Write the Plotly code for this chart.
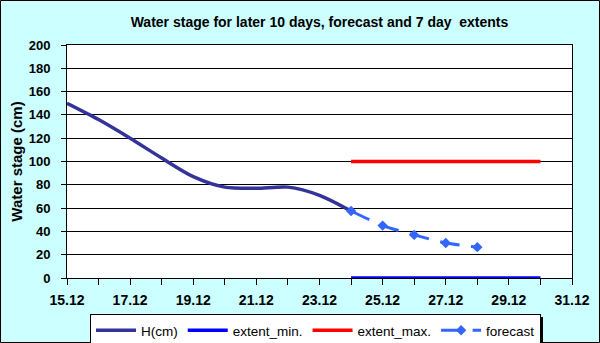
import plotly.graph_objects as go

# observed water stage, daily
h_dates = ["2023-12-15", "2023-12-16", "2023-12-17", "2023-12-18", "2023-12-19",
           "2023-12-20", "2023-12-21", "2023-12-22", "2023-12-23", "2023-12-24"]
h_values = [150, 136, 120, 103, 87, 78, 77, 78, 71, 57.5]

# forecast
fc_dates = ["2023-12-24", "2023-12-25", "2023-12-26", "2023-12-27", "2023-12-28"]
fc_values = [57.5, 45, 37, 30, 26.5]

# 7 day extents
ext_dates = ["2023-12-24", "2023-12-30"]
ext_min = [0, 0]
ext_max = [100, 100]

y_title = "Water stage (cm)"
title = "Water stage for later 10 days, forecast and 7 day  extents"

font = "Liberation Sans, Arial, sans-serif"
W, H = 600, 343
ml, mr, mt, mb = 67, 28, 45, 65
pw, ph = W - ml - mr, H - mt - mb


def px(x, y):
    # pixel position -> paper coords
    return (x - ml) / pw, (H - mb - y) / ph


fig = go.Figure()
fig.add_trace(go.Scatter(x=h_dates, y=h_values, name="H(cm)", mode="lines",
                         line=dict(color="#333399", width=3.5, shape="spline", smoothing=0.8)))
fig.add_trace(go.Scatter(x=ext_dates, y=ext_min, name="extent_min.", mode="lines",
                         line=dict(color="#0000ff", width=3.5), cliponaxis=False))
fig.add_trace(go.Scatter(x=ext_dates, y=ext_max, name="extent_max.", mode="lines",
                         line=dict(color="#ff0000", width=3.5)))
fig.add_trace(go.Scatter(x=fc_dates, y=fc_values, name="forecast", mode="lines+markers",
                         line=dict(color="#3366ff", width=3, dash="20px,11.5px", shape="spline", smoothing=0.6),
                         marker=dict(symbol="diamond", size=8, color="#3366ff")))

day = 86400000
fig.update_xaxes(type="date", range=["2023-12-15", "2023-12-31"], dtick=2 * day,
                 tick0="2023-12-15", tickformat="%d.%m",
                 ticks="outside", ticklen=6, tickcolor="black", ticklabelstandoff=3,
                 minor=dict(dtick=day, ticks="outside", ticklen=6, tickcolor="black"),
                 showgrid=False, showline=True, linecolor="black", linewidth=1,
                 mirror=True, zeroline=False, automargin=False,
                 tickfont=dict(family=font, size=14, color="black", weight="bold"))
fig.update_yaxes(range=[0, 200], dtick=20, ticks="outside", ticklen=5, tickcolor="black",
                 ticklabelstandoff=8,
                 showgrid=True, gridcolor="black", gridwidth=1,
                 showline=True, linecolor="black", linewidth=1, mirror=True, zeroline=False,
                 automargin=False,
                 title=dict(text=y_title, font=dict(family=font, size=15, color="black", weight="bold"),
                            standoff=2),
                 tickfont=dict(family=font, size=13, color="black", weight="bold"))

# legend shadow and outer border
sx0, sy0 = px(93, 343)
sx1, sy1 = px(543, 317)
fig.add_shape(type="rect", xref="paper", yref="paper", x0=sx0, x1=sx1, y0=sy0, y1=sy1,
              fillcolor="black", line=dict(width=0), layer="below")
bx0, by0 = px(0.5, H - 0.5)
bx1, by1 = px(W - 0.5, 0.5)
fig.add_shape(type="rect", xref="paper", yref="paper", x0=bx0, x1=bx1, y0=by0, y1=by1,
              line=dict(color="black", width=1))

lx, ly = px(90, 314)
fig.update_layout(
    width=W, height=H,
    margin=dict(l=ml, r=mr, t=mt, b=mb, autoexpand=False),
    paper_bgcolor="#ccffff", plot_bgcolor="white",
    title=dict(text=title, x=0.5, xref="paper", y=1 - 22 / H, yanchor="middle",
               font=dict(family=font, size=14, color="black", weight="bold")),
    legend=dict(orientation="h", x=lx, y=ly, xanchor="left", yanchor="top",
                bgcolor="white", bordercolor="black", borderwidth=1,
                font=dict(family=font, size=13.5, color="black"),
                itemwidth=40, tracegroupgap=0),
    showlegend=True,
)

fig.write_html("out.html", config={"displayModeBar": False},
               post_script="document.body.style.margin='0';")
